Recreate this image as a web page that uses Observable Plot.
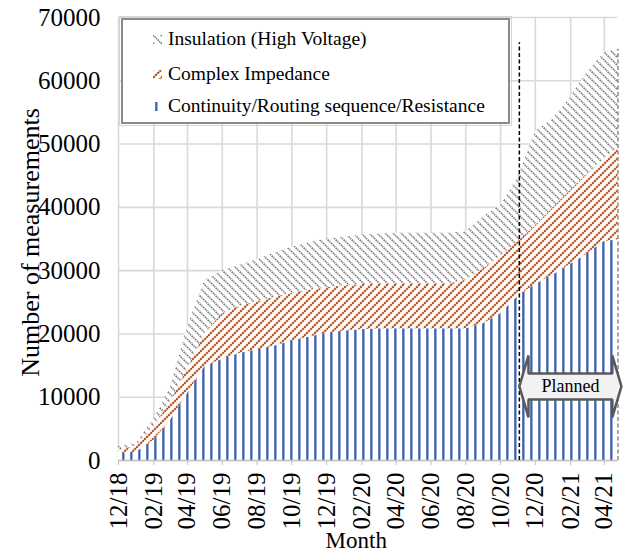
<!DOCTYPE html>
<html><head><meta charset="utf-8">
<script src="https://cdn.jsdelivr.net/npm/d3@7"></script>
<script src="https://cdn.jsdelivr.net/npm/@observablehq/plot@0.6"></script>
<style>
body{margin:0;background:#fff;}
#wrap{position:relative;width:624px;height:553px;font-family:"Liberation Serif","Times New Roman",serif;}
#wrap svg text{font-family:"Liberation Serif" !important;}
#legend{position:absolute;left:121px;top:18px;width:385px;height:102px;border:2px solid #8a8a8a;outline:1px solid #d4d4d4;outline-offset:1px;background:#fff;}
.row{position:absolute;left:30px;height:24px;display:flex;align-items:center;font-size:19.5px;color:#000;white-space:nowrap;}
.row svg{margin-right:6px;}
</style></head><body><div id="wrap"></div>
<script>
const months = ["2018-12-01","2019-01-01","2019-02-01","2019-03-01","2019-04-01","2019-05-01","2019-06-01","2019-07-01","2019-08-01","2019-09-01","2019-10-01","2019-11-01","2019-12-01","2020-01-01","2020-02-01","2020-03-01","2020-04-01","2020-05-01","2020-06-01","2020-07-01","2020-08-01","2020-09-01","2020-10-01","2020-11-01","2020-12-01","2021-01-01","2021-02-01","2021-03-01","2021-04-01","2021-04-25"];
const continuity = [1100,1300,3200,6200,10600,14800,16000,16900,17500,18100,18900,19500,20100,20450,20700,20800,20800,20800,20800,20800,20800,21600,23200,26000,27800,29300,31000,32600,34600,34900];
const impedance = [400,1000,2100,2900,3900,5200,7200,7400,7600,7700,7500,7400,7200,7150,7100,7100,7100,7100,7100,7100,7700,8700,9000,8600,9200,10600,11700,12500,13100,14400];
const insulation = [700,400,1200,2200,6500,8400,6800,6500,6600,7000,7300,7500,7700,7700,7800,7900,8000,8000,8000,8000,7600,8200,8100,10200,15000,14100,14700,16100,16700,15700];
const seriesNames = ["Continuity/Routing sequence/Resistance","Complex Impedance","Insulation (High Voltage)"];
const legendOrder = ["Insulation (High Voltage)","Complex Impedance","Continuity/Routing sequence/Resistance"];
const xTickLabels = ["2018-12-01","2019-02-01","2019-04-01","2019-06-01","2019-08-01","2019-10-01","2019-12-01","2020-02-01","2020-04-01","2020-06-01","2020-08-01","2020-10-01","2020-12-01","2021-02-01","2021-04-01"];
const yTicks = [0,10000,20000,30000,40000,50000,60000,70000];
const plannedStart = "2020-11-03";
const plannedEnd = "2021-05-01";
const plannedTop = 66000;
const endTop = 65000;
const arrowLabel = "Planned";
const arrowY = 11700;

const FONT = "Liberation Serif";
const parse = s => new Date(s + "T00:00:00Z");
const patterns = {
  "Continuity/Routing sequence/Resistance": "url(#pBlue)",
  "Complex Impedance": "url(#pBrown)",
  "Insulation (High Voltage)": "url(#pGray)"
};

const values = [continuity, impedance, insulation];
const long = [];
seriesNames.forEach((s, k) => months.forEach((m, i) => long.push({date: parse(m), value: values[k][i], series: s})));

// arrow polygon (data space)
const aStart = parse(plannedStart), aEnd = parse(plannedEnd);
const headDays = 16 * 864e5, headH = 4900, shaftH = 2050;
const t = d => new Date(d);
const arrow = [
  [aStart, arrowY],
  [t(+aStart + headDays), arrowY + headH],
  [t(+aStart + headDays), arrowY + shaftH],
  [t(+aEnd - headDays), arrowY + shaftH],
  [t(+aEnd - headDays), arrowY + headH],
  [aEnd, arrowY],
  [t(+aEnd - headDays), arrowY - headH],
  [t(+aEnd - headDays), arrowY - shaftH],
  [t(+aStart + headDays), arrowY - shaftH],
  [t(+aStart + headDays), arrowY - headH],
  [aStart, arrowY]
].map(([x, y]) => ({x, y}));
const arrowMid = new Date((+aStart + +aEnd) / 2);

const xTicks = xTickLabels.map(parse);
const endDate = parse(months[months.length - 1]);

const svg = Plot.plot({
  width: 624,
  height: 553,
  marginLeft: 118,
  marginRight: 6.5,
  marginTop: 17,
  marginBottom: 93,
  style: {fontFamily: FONT, background: "#fff", overflow: "visible"},
  x: {type: "utc", domain: [parse(months[0]), endDate]},
  y: {domain: [0, 70000]},
  color: {domain: seriesNames, range: seriesNames.map(s => patterns[s])},
  marks: [
    Plot.gridY(yTicks, {stroke: "#d9d9d9", strokeOpacity: 1, strokeWidth: 1.6}),
    Plot.gridX(xTicks, {stroke: "#d9d9d9", strokeOpacity: 1, strokeWidth: 1.6}),
    Plot.areaY(long, Plot.stackY({x: "date", y: "value", z: "series", fill: "series", order: seriesNames})),
    Plot.ruleY([0], {stroke: "#bfbfbf", strokeWidth: 1.6}),
    Plot.ruleX([parse(plannedStart)], {y1: 0, y2: plannedTop, stroke: "#000", strokeWidth: 1.5, strokeDasharray: "4,2.5"}),
    Plot.ruleX([endDate], {y1: 0, y2: endTop, stroke: "#8c8c8c", strokeWidth: 1.5, strokeDasharray: "4,2.5"}),
    Plot.line(arrow, {x: "x", y: "y", fill: "#f2f2f2", stroke: "#595959", strokeWidth: 2.5, strokeLinejoin: "miter"}),
    Plot.text([arrowLabel], {x: arrowMid, y: arrowY, text: d => d, fontSize: 18, fontFamily: FONT, fill: "#000"}),
    Plot.axisX(xTicks, {tickFormat: d3.utcFormat("%m/%y"), tickRotate: -90, tickSize: 5, tickPadding: 7, fontSize: 25, fontFamily: FONT, stroke: "#bfbfbf", fill: "#000", label: null}),
    Plot.axisY(yTicks, {tickFormat: d => String(d), tickSize: 0, tickPadding: 18, fontSize: 25, fontFamily: FONT, fill: "#000", label: null}),
    Plot.text(["Number of measurements"], {frameAnchor: "left", textAnchor: "middle", lineAnchor: "middle", dx: -88, dy: 3.5, rotate: -90, fontSize: 26, fontFamily: FONT, fill: "#000"}),
    Plot.text(["Month"], {frameAnchor: "bottom", textAnchor: "middle", lineAnchor: "middle", dx: -12, dy: 80, fontSize: 23, fontFamily: FONT, fill: "#000"})
  ]
});

svg.setAttribute("font-family", FONT);
svg.querySelectorAll("text").forEach(el => {
  el.setAttribute("font-family", FONT);
  el.style.fontFamily = FONT;
});

const defs = document.createElementNS("http://www.w3.org/2000/svg", "defs");
defs.innerHTML = `
<pattern id="pBlue" patternUnits="userSpaceOnUse" width="8" height="8">
  <rect width="8" height="8" fill="#fff"/>
  <rect x="2.2" y="0" width="2.3" height="8" fill="#3a60b0"/>
</pattern>
<pattern id="pBrown" patternUnits="userSpaceOnUse" width="8" height="8">
  <rect width="8" height="8" fill="#fff"/>
  <path d="M-2,2 L2,-2 M0,8 L8,0 M6,10 L10,6" stroke="#b0501c" stroke-width="2.1" stroke-dasharray="2.4,0.7"/>
</pattern>
<pattern id="pGray" patternUnits="userSpaceOnUse" width="8" height="8">
  <rect width="8" height="8" fill="#fff"/>
  <path d="M-2,6 L2,10 M0,0 L8,8 M6,-2 L10,2" stroke="#6e6e6e" stroke-width="1.6" stroke-dasharray="1.3,0.9"/>
</pattern>`;
svg.insertBefore(defs, svg.firstChild);

const wrap = document.getElementById("wrap");
wrap.appendChild(svg);

const legend = document.createElement("div");
legend.id = "legend";
const rowTops = [7, 42, 74];
legendOrder.forEach((name, i) => {
  const row = document.createElement("div");
  row.className = "row";
  row.style.top = rowTops[i] + "px";
  const sw = document.createElementNS("http://www.w3.org/2000/svg", "svg");
  sw.setAttribute("width", "9"); sw.setAttribute("height", "9");
  const r = document.createElementNS("http://www.w3.org/2000/svg", "rect");
  r.setAttribute("width", "9"); r.setAttribute("height", "9");
  r.setAttribute("fill", patterns[name]);
  sw.appendChild(r);
  row.appendChild(sw);
  const span = document.createElement("span");
  span.textContent = name;
  row.appendChild(span);
  legend.appendChild(row);
});
wrap.appendChild(legend);
</script>
</body></html>
